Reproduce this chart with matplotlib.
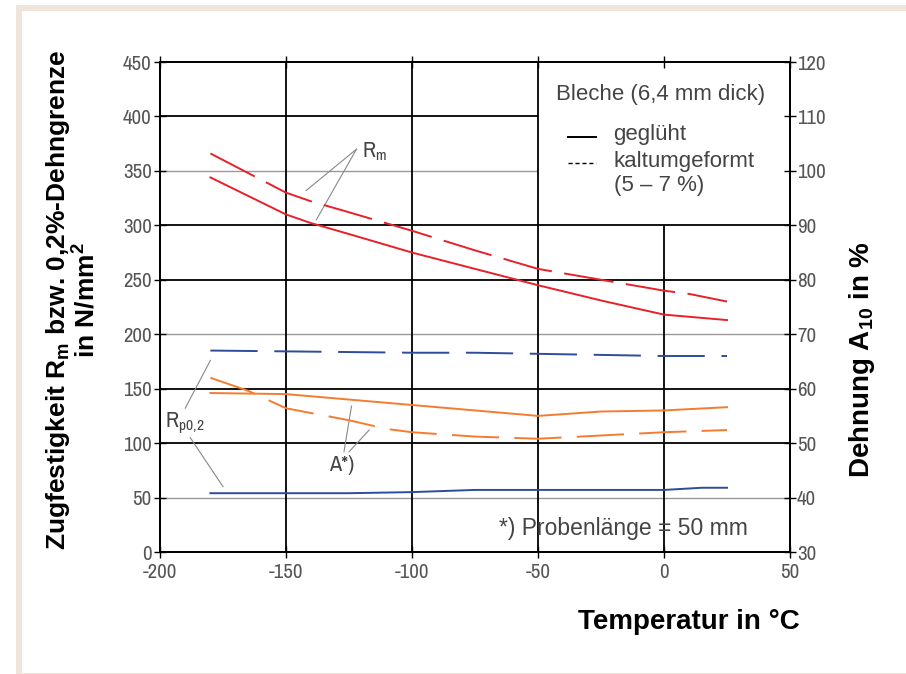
import matplotlib
matplotlib.use("Agg")
import matplotlib.pyplot as plt
from matplotlib.patches import Rectangle

plt.rcParams['font.family'] = ['Archivo Narrow', 'Liberation Sans', 'DejaVu Sans']
plt.rcParams['mathtext.default'] = 'regular'
plt.rcParams['lines.scale_dashes'] = False
plt.rcParams['axes.unicode_minus'] = False

# Rm (left axis, N/mm2)
rm_gegl_t = [-180, -165, -150, -140, -125, -100, -75, -50, -25, 0, 10, 25]
rm_gegl = [344, 327, 310, 302, 292, 275, 260, 245, 231, 218, 216, 213]
rm_kalt_t = [-180, -165, -150, -140, -125, -100, -75, -50, -25, 0, 10, 25]
rm_kalt = [366, 348, 330, 322, 312, 295, 277, 260, 250, 240, 237, 230]

# Rp0,2 (left axis, N/mm2)
rp_gegl_t = [-180, -125, -100, -75, 0, 15, 25]
rp_gegl = [54, 54, 55, 57, 57, 59, 59]
rp_kalt_t = [-180, -100, -75, -50, -25, 0, 25]
rp_kalt = [185, 183, 183, 182, 181, 180, 180]

# Dehnung A (right axis, %)
a_gegl_t = [-180, -150, -125, -100, -75, -50, -25, 0, 25]
a_gegl = [59.2, 59.0, 58.0, 57.0, 56.0, 55.0, 55.8, 56.0, 56.6]
a_kalt_t = [-180, -165, -150, -125, -110, -100, -75, -50, -25, 0, 25]
a_kalt = [62.0, 59.6, 56.4, 54.2, 52.6, 52.0, 51.2, 50.8, 51.4, 52.0, 52.4]

x_ticks = [-200, -150, -100, -50, 0, 50]
y_left_ticks = list(range(0, 451, 50))
y_right_ticks = list(range(30, 121, 10))

red = '#e8202a'
blue = '#2f4b9c'
orange = '#f47c30'
tick_col = '#555555'
bold_font = ['Liberation Sans', 'DejaVu Sans']

fig = plt.figure(figsize=(9.06, 6.74), dpi=100)

# beige frame of the original page
fig.patches.append(Rectangle((16 / 906, 0), 1, 1 - 5 / 674, transform=fig.transFigure,
                             facecolor='#f1e4da', edgecolor='none', zorder=-2))
fig.patches.append(Rectangle((22 / 906, 0.0015), 1, 1 - 11 / 674 - 0.0015, transform=fig.transFigure,
                             facecolor='white', edgecolor='none', zorder=-1))

ax = fig.add_axes([160 / 906, 1 - 552 / 674, 630 / 906, 490 / 674])
ax.set_xlim(-200, 50)
ax.set_ylim(0, 450)
ax2 = ax.twinx()
ax2.set_ylim(30, 120)

# grid, drawn like the original (box for legend in upper right)
for y in [100, 150, 250, 300]:
    ax.hlines(y, -200, 50, color='black', lw=1.3, zorder=1)
ax.hlines(400, -200, -50, color='black', lw=1.3, zorder=1)
for y in [50, 200]:
    ax.hlines(y, -200, 50, color='#999999', lw=1.0, zorder=1)
ax.hlines(350, -200, -50, color='#999999', lw=1.0, zorder=1)
for x in [-150, -100, -50]:
    ax.vlines(x, 0, 450, color='black', lw=1.3, zorder=1)
ax.vlines(0, 0, 300, color='black', lw=1.3, zorder=1)

ax.plot(rm_gegl_t, rm_gegl, color=red, lw=1.4, zorder=3)
ax.plot(rm_kalt_t, rm_kalt, color=red, lw=1.4, dashes=(36, 9), zorder=3)
ax.plot(rp_gegl_t, rp_gegl, color=blue, lw=1.4, zorder=3)
ax.plot(rp_kalt_t, rp_kalt, color=blue, lw=1.4, dashes=(34, 12), zorder=3)
ax2.plot(a_gegl_t, a_gegl, color=orange, lw=1.4, zorder=3)
ax2.plot(a_kalt_t, a_kalt, color=orange, lw=1.4, dashes=(34, 11), zorder=3)

# ticks
ax.set_xticks(x_ticks)
ax.set_yticks(y_left_ticks)
ax2.set_yticks(y_right_ticks)
ax.tick_params(axis='both', direction='inout', length=8, width=1.0, colors='black',
               labelcolor=tick_col, labelsize=15, pad=1)
ax.tick_params(axis='x', pad=4)
ax.tick_params(axis='y', pad=2)
ax2.tick_params(axis='y', direction='inout', length=8, width=1.0, colors='black',
                labelcolor=tick_col, labelsize=15, pad=1)
ax.tick_params(top=True, labeltop=False)
for sp in ax.spines.values():
    sp.set_linewidth(1.3)
for sp in ax2.spines.values():
    sp.set_linewidth(1.3)

# axis labels
fig.text(58 / 906, 1 - 300 / 674, 'Zugfestigkeit R$_m$ bzw. 0,2%-Dehngrenze',
         rotation=90, ha='center', va='center', fontsize=19, fontweight='bold',
         family=bold_font)
fig.text(86 / 906, 1 - 300 / 674, 'in N/mm$^2$',
         rotation=90, ha='center', va='center', fontsize=19, fontweight='bold',
         family=bold_font)
fig.text(862 / 906, 1 - 360 / 674, 'Dehnung A$_{10}$ in %',
         rotation=90, ha='center', va='center', fontsize=20, fontweight='bold',
         family=bold_font)
fig.text(800 / 906, 1 - 622 / 674, 'Temperatur in °C', ha='right', va='center',
         fontsize=20, fontweight='bold', family=bold_font)

# legend box text
txt = dict(color='#444444', fontsize=16, family=['Liberation Sans', 'DejaVu Sans'])
ax.text(-43, 420, 'Bleche (6,4 mm dick)', ha='left', va='center', **txt)
ax.plot([-38, -27], [381, 381], color='black', lw=1.4)
ax.text(-20, 383, 'geglüht', ha='left', va='center', **txt)
ax.plot([-38, -27], [357, 357], color='black', lw=1.0, dashes=(3, 2))
ax.text(-20, 359, 'kaltumgeformt', ha='left', va='center', **txt)
ax.text(-20, 337, '(5 – 7 %)', ha='left', va='center', **txt)
ax.text(-65.5, 22, '*) Probenlänge = 50 mm', ha='left', va='center',
        color='#444444', fontsize=16.5, family=['Liberation Sans', 'DejaVu Sans'])

# curve labels with leader lines
lab = dict(color='#444444', fontsize=16)
lead = dict(color='#888888', lw=0.8, zorder=2)
ax.text(-120, 368, 'R$_m$', ha='left', va='center', **lab)
ax.plot([-122, -142], [370, 332], **lead)
ax.plot([-122, -138], [370, 305], **lead)
ax.text(-198, 118, 'R$_{p0{,}2}$', ha='left', va='center', **lab)
ax.plot([-190, -180], [132, 176], **lead)
ax.plot([-188, -175], [105, 60], **lead)
ax.text(-133, 80, 'A*)', ha='left', va='center', **lab)
ax.plot([-127, -124], [92, 134], **lead)
ax.plot([-125, -117], [92, 112], **lead)

fig.savefig('out.png', dpi=100)
